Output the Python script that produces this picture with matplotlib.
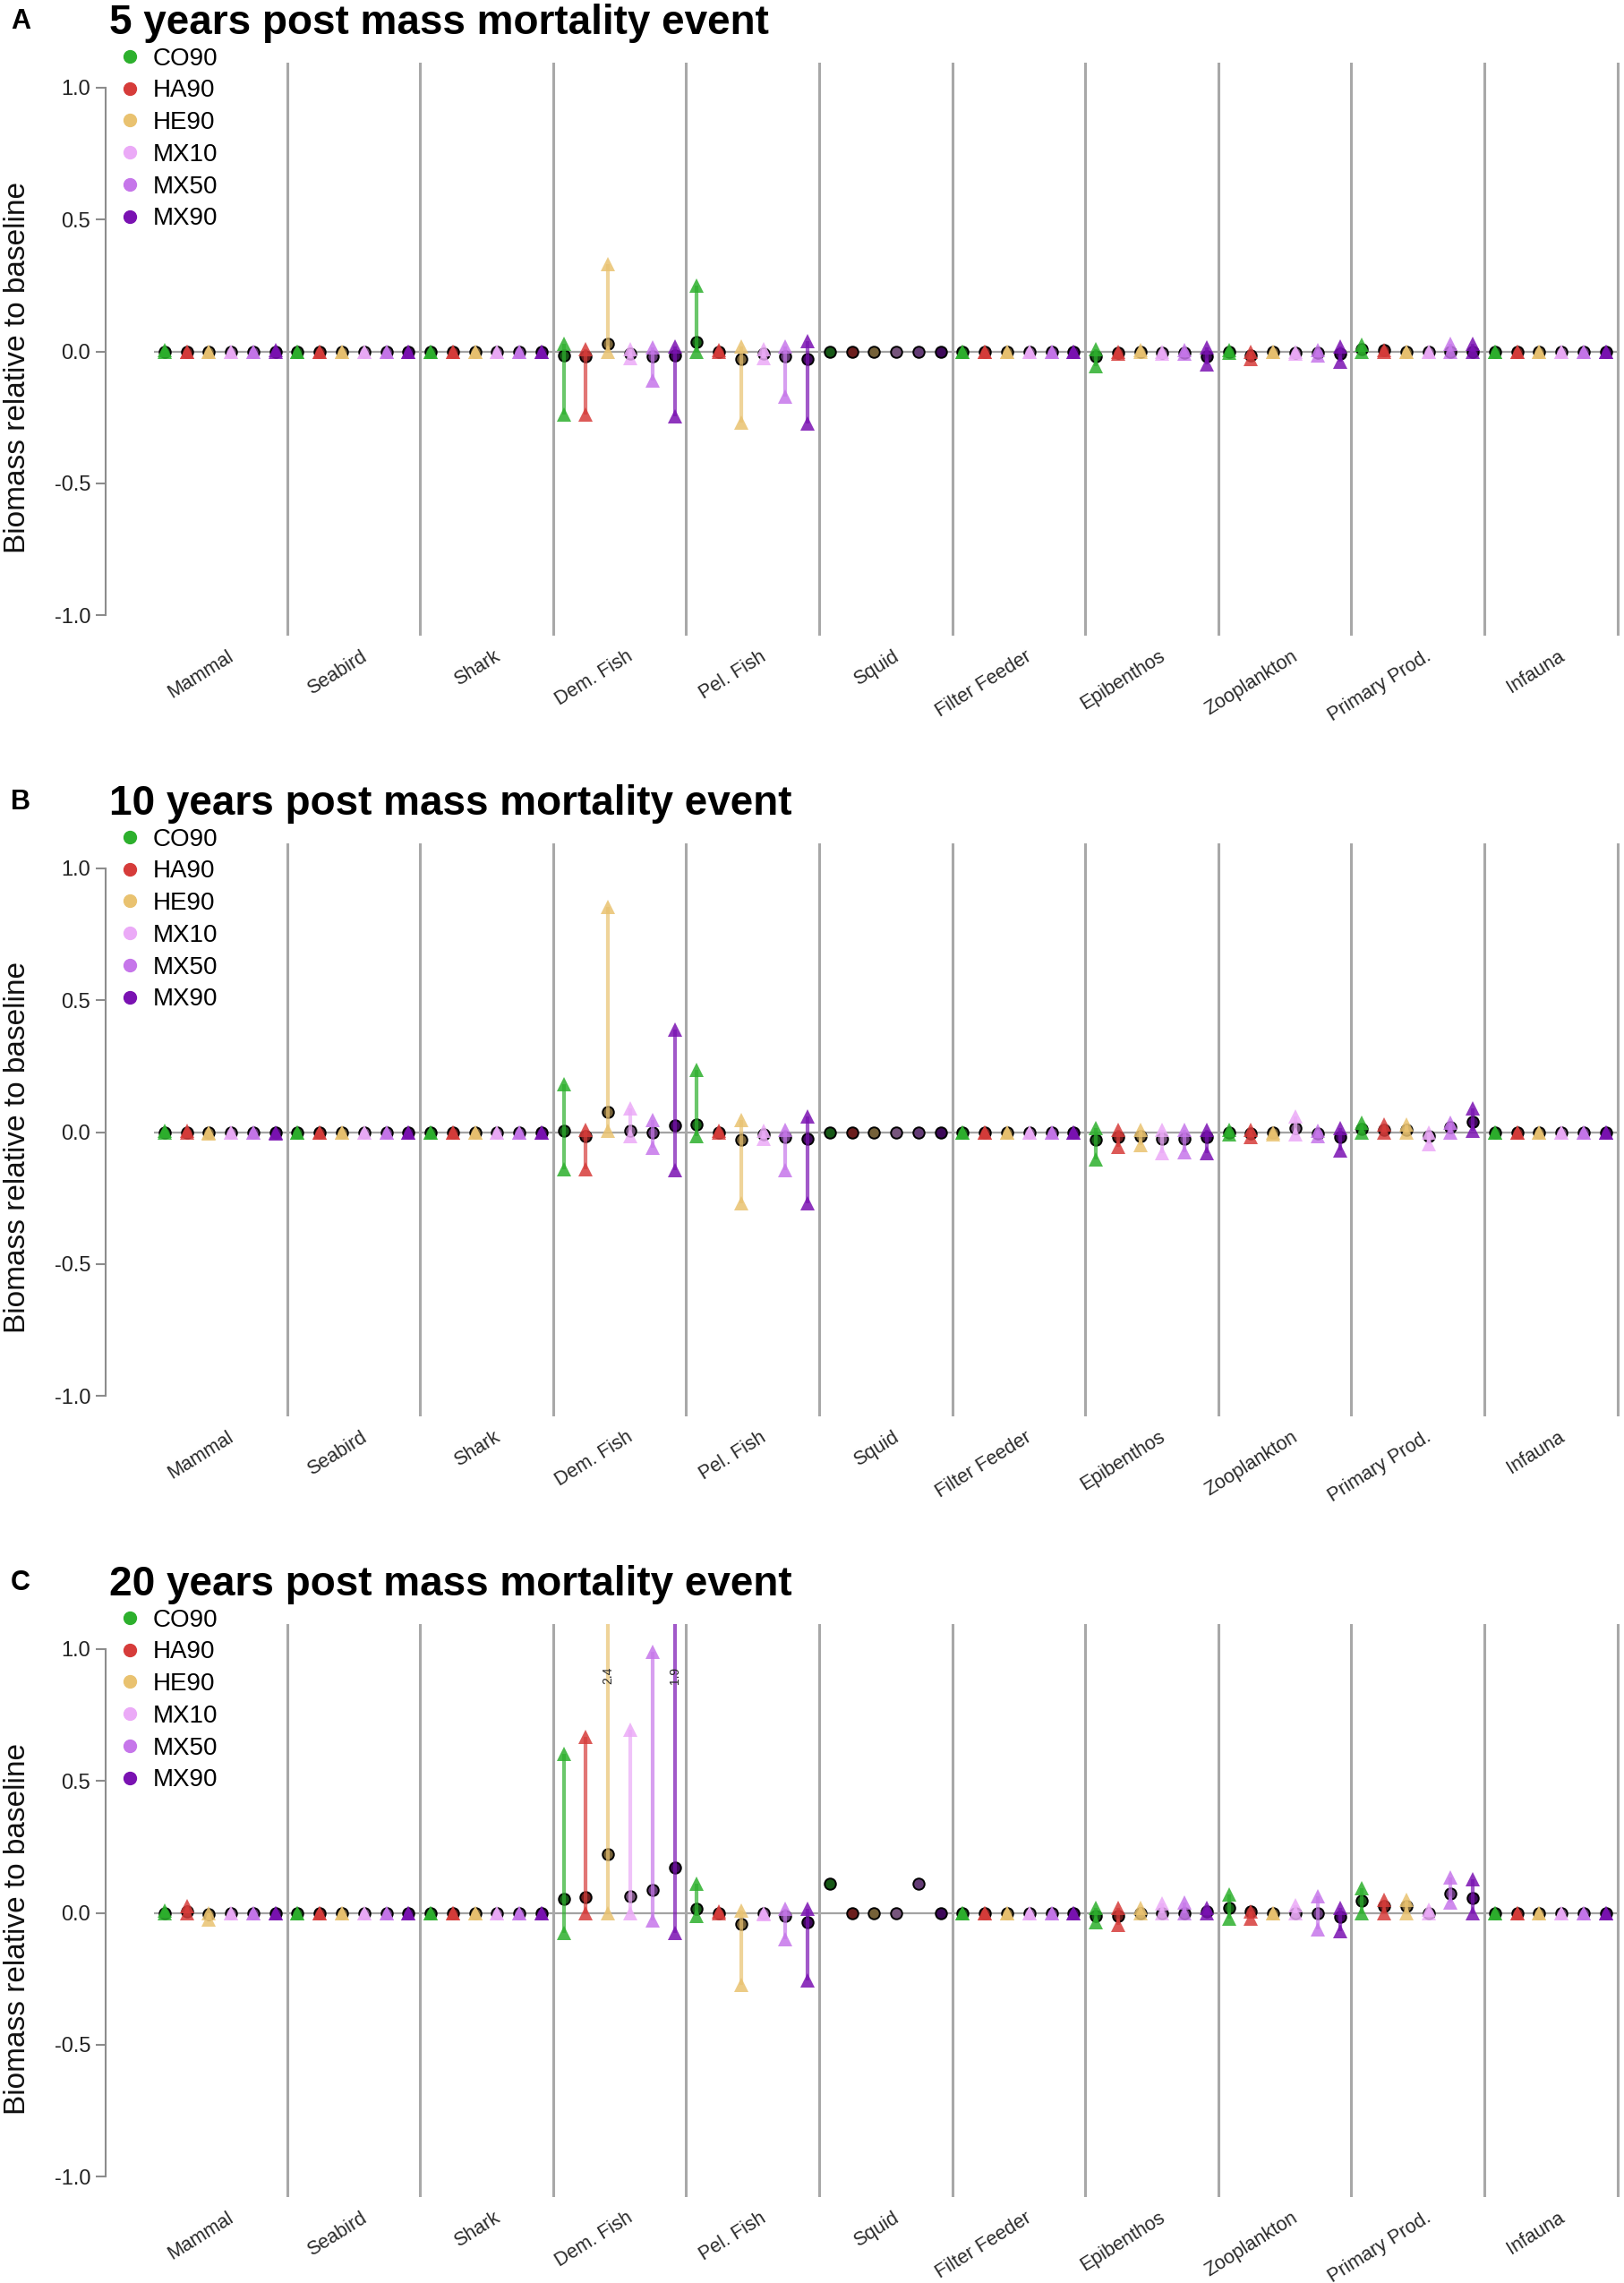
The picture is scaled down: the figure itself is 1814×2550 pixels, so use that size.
import numpy as np
import matplotlib
matplotlib.use('Agg')
import matplotlib.pyplot as plt
from matplotlib.colors import to_rgb
from matplotlib.lines import Line2D
from matplotlib.transforms import blended_transform_factory

plt.rcParams['font.family'] = ['Liberation Sans', 'DejaVu Sans']

# ---------------------------------------------------------------------------
# data
# ---------------------------------------------------------------------------
nan = np.nan

groups = ['Mammal', 'Seabird', 'Shark', 'Dem. Fish', 'Pel. Fish', 'Squid',
          'Filter Feeder', 'Epibenthos', 'Zooplankton', 'Primary Prod.', 'Infauna']
scenarios = ['CO90', 'HA90', 'HE90', 'MX10', 'MX50', 'MX90']
colors = ['#2DB02D', '#D63C3A', '#E9C270', '#EBAAF7', '#C676EA', '#7A12B2']

# 5 years: rows = scenarios, cols = groups
mean_5 = [
    [0, 0, 0, -0.015, 0.035, 0, 0, -0.02, 0.0, 0.008, 0],
    [0, 0, 0, -0.02, 0.0, 0, 0, -0.005, -0.015, 0.005, 0],
    [0, 0, 0, 0.03, -0.03, 0, 0, 0, 0, 0, 0],
    [0, 0, 0, -0.01, -0.01, 0, 0, -0.005, -0.005, 0, 0],
    [0, 0, 0, -0.02, -0.02, 0, 0, -0.005, -0.005, 0, 0],
    [0, 0, 0, -0.015, -0.03, 0, 0, -0.02, -0.01, 0, 0],
]
lo_5 = [
    [0, 0, 0, -0.24, 0.0, nan, 0, -0.055, -0.005, 0, 0],
    [0, 0, 0, -0.24, 0, nan, 0, -0.01, -0.03, 0, 0],
    [0, 0, 0, 0.0, -0.27, nan, 0, 0, 0, 0, 0],
    [0, 0, 0, -0.025, -0.025, nan, 0, -0.01, -0.01, 0, 0],
    [0, 0, 0, -0.11, -0.17, nan, 0, -0.01, -0.015, 0, 0],
    [0, 0, 0, -0.245, -0.275, nan, 0, -0.05, -0.04, 0, 0],
]
hi_5 = [
    [0.005, 0, 0, 0.03, 0.25, nan, 0, 0.01, 0.005, 0.025, 0],
    [0, 0, 0, 0.01, 0.005, nan, 0, 0, 0.0, 0.005, 0],
    [0, 0, 0, 0.33, 0.02, nan, 0, 0.005, 0, 0, 0],
    [0, 0, 0, 0.01, 0.01, nan, 0, 0, 0, 0, 0],
    [0, 0, 0, 0.015, 0.02, nan, 0, 0.005, 0.005, 0.03, 0],
    [0.005, 0, 0, 0.02, 0.04, nan, 0, 0.015, 0.02, 0.03, 0],
]

# 10 years
mean_10 = [
    [0, 0, 0, 0.005, 0.03, 0, 0, -0.03, 0.0, 0.011, 0],
    [0, 0, 0, -0.015, 0.0, 0, 0, -0.02, -0.005, 0.009, 0],
    [0, 0, 0, 0.075, -0.03, 0, 0, -0.015, 0, 0.009, 0],
    [0, 0, 0, 0.005, -0.01, 0, 0, -0.025, 0.015, -0.014, 0],
    [0, 0, 0, 0.0, -0.02, 0, 0, -0.025, -0.005, 0.017, 0],
    [0, 0, 0, 0.025, -0.025, 0, 0, -0.02, -0.017, 0.04, 0],
]
lo_10 = [
    [0, 0, 0, -0.14, -0.015, nan, 0, -0.105, -0.01, 0, 0],
    [0, 0, 0, -0.14, 0, nan, 0, -0.055, -0.02, 0, 0],
    [-0.005, 0, 0, 0.005, -0.27, nan, 0, -0.05, -0.01, 0, 0],
    [0, 0, 0, -0.015, -0.025, nan, 0, -0.08, -0.01, -0.045, 0],
    [0, 0, 0, -0.06, -0.145, nan, 0, -0.075, -0.015, 0, 0],
    [-0.005, 0, 0, -0.145, -0.27, nan, 0, -0.08, -0.068, 0.006, 0],
]
hi_10 = [
    [0.005, 0, 0, 0.18, 0.235, nan, 0, 0.015, 0.01, 0.034, 0],
    [0.005, 0, 0, 0.01, 0.005, nan, 0, 0.01, 0.01, 0.028, 0],
    [0, 0, 0, 0.855, 0.045, nan, 0, 0.01, 0, 0.028, 0],
    [0, 0, 0, 0.09, 0.005, nan, 0, 0.01, 0.06, 0, 0],
    [0, 0, 0, 0.045, 0.01, nan, 0, 0.01, 0.005, 0.034, 0],
    [0, 0, 0, 0.39, 0.06, nan, 0, 0.01, 0.015, 0.09, 0],
]

# 20 years
mean_20 = [
    [0, 0, 0, 0.051, 0.015, 0.11, 0, -0.011, 0.017, 0.045, 0],
    [0.005, 0, 0, 0.058, 0.0, 0, 0, -0.011, 0.006, 0.025, 0],
    [-0.005, 0, 0, 0.222, -0.042, 0, 0, 0, 0, 0.025, 0],
    [0, 0, 0, 0.063, 0.0, 0, 0, 0, 0, 0, 0],
    [0, 0, 0, 0.088, -0.013, 0.11, 0, 0, 0, 0.073, 0],
    [0, 0, 0, 0.173, -0.036, 0, 0, 0.005, -0.015, 0.057, 0],
]
lo_20 = [
    [0, 0, 0, -0.076, -0.013, nan, 0, -0.036, -0.023, 0.0, 0],
    [0, 0, 0, 0.0, 0, nan, 0, -0.045, -0.023, 0, 0],
    [-0.025, 0, 0, 0.0, -0.274, nan, 0, 0, 0, 0, 0],
    [0, 0, 0, 0.0, -0.005, nan, 0, 0, 0, 0, 0],
    [0, 0, 0, -0.03, -0.1, nan, 0, 0, -0.062, 0.04, 0],
    [0, 0, 0, -0.076, -0.257, nan, 0, 0, -0.07, 0.0, 0],
]
hi_20 = [
    [0.01, 0, 0, 0.604, 0.11, nan, 0, 0.017, 0.068, 0.093, 0],
    [0.025, 0, 0, 0.667, 0.005, nan, 0, 0.017, 0.006, 0.048, 0],
    [0, 0, 0, 2.4, 0.01, nan, 0, 0.017, 0, 0.048, 0],
    [0, 0, 0, 0.695, 0.0, nan, 0, 0.034, 0.028, 0.013, 0],
    [0, 0, 0, 0.99, 0.015, nan, 0, 0.04, 0.062, 0.133, 0],
    [0, 0, 0, 1.9, 0.015, nan, 0, 0.017, 0.02, 0.127, 0],
]

panels = [
    ('A', '5 years post mass mortality event', mean_5, lo_5, hi_5),
    ('B', '10 years post mass mortality event', mean_10, lo_10, hi_10),
    ('C', '20 years post mass mortality event', mean_20, lo_20, hi_20),
]

# ---------------------------------------------------------------------------
# figure
# ---------------------------------------------------------------------------
W, H = 1814, 2550
fig = plt.figure(figsize=(W / 100, H / 100), dpi=100)

YMIN, YMAX = -1.078, 1.095
offsets = 0.08 + np.arange(len(scenarios)) * 0.1667
xg = np.arange(len(groups))


def darker(c, f=0.5):
    r, g, b = to_rgb(c)
    return (r * f, g * f, b * f)


for i, (letter, title, mean, lo, hi) in enumerate(panels):
    top = 70 + i * 872
    ax = fig.add_axes([118 / W, 1 - (top + 640) / H, (1812 - 118) / W, 640 / H])
    ax.set_xlim(-0.363, 11.036)
    ax.set_ylim(YMIN, YMAX)

    ax.hlines(0, 0, len(groups), color='#a3a3a3', lw=1.6, zorder=1)
    for g in range(len(groups)):
        ax.axvline(g + 1, color='#a8a8a8', lw=2.2, zorder=1)

    for j, (name, col) in enumerate(zip(scenarios, colors)):
        x = xg + offsets[j]
        m = np.array(mean[j], dtype=float)
        l = np.array(lo[j], dtype=float)
        h = np.array(hi[j], dtype=float)
        ax.plot(x, m, 'o', ls='none', ms=9, mfc=darker(col), mec='black', mew=1.4, zorder=2)
        ok = ~np.isnan(l)
        ax.vlines(x[ok], l[ok], h[ok], color=col, alpha=0.7, lw=3, zorder=3)
        ax.plot(x[ok], l[ok], '^', ls='none', ms=12, color=col, alpha=0.85, mew=0, zorder=3)
        ax.plot(x[ok], h[ok], '^', ls='none', ms=12, color=col, alpha=0.85, mew=0, zorder=3)
        for xv, hv in zip(x[ok], h[ok]):
            if hv > YMAX:
                ax.text(xv, 0.9, f'{hv:.1f}', rotation=90, ha='center', va='center',
                        fontsize=10, color='#222222', zorder=5)

    # axes styling (R base look)
    for s in ['top', 'right', 'bottom']:
        ax.spines[s].set_visible(False)
    ax.spines['left'].set_bounds(-1, 1)
    ax.spines['left'].set_color('#8c8c8c')
    ax.spines['left'].set_linewidth(1.5)
    ax.set_yticks([-1, -0.5, 0, 0.5, 1])
    ax.set_yticklabels(['-1.0', '-0.5', '0.0', '0.5', '1.0'])
    ax.tick_params(axis='y', length=8, width=1.5, color='#8c8c8c',
                   labelcolor='#222222', labelsize=17, pad=4)
    ax.set_xticks([])

    trans = blended_transform_factory(ax.transData, ax.transAxes)
    for g, name in enumerate(groups):
        ax.text(g + 0.55, -0.02, name, transform=trans, rotation=32, ha='right',
                va='top', rotation_mode='anchor', fontsize=15.5, color='#2a2a2a')

    handles = [Line2D([], [], marker='o', ls='none', color=c, ms=10) for c in colors]
    ax.legend(handles, scenarios, loc='upper left', bbox_to_anchor=(0.0075, 1.027),
              frameon=False, fontsize=20, handletextpad=0.45, labelspacing=0.35,
              borderaxespad=0, borderpad=0, handlelength=1.0)

    fig.text(122 / W, 1 - (top - 32) / H, title, fontsize=33, fontweight='bold',
             va='baseline', ha='left')
    fig.text(12 / W, 1 - (top - 38) / H, letter, fontsize=22, fontweight='bold',
             va='baseline', ha='left')
    fig.text(20 / W, 1 - (top + 340) / H, 'Biomass relative to baseline', fontsize=24,
             rotation=90, va='center', ha='center', color='#111111')

fig.savefig('out.png', dpi=100)
